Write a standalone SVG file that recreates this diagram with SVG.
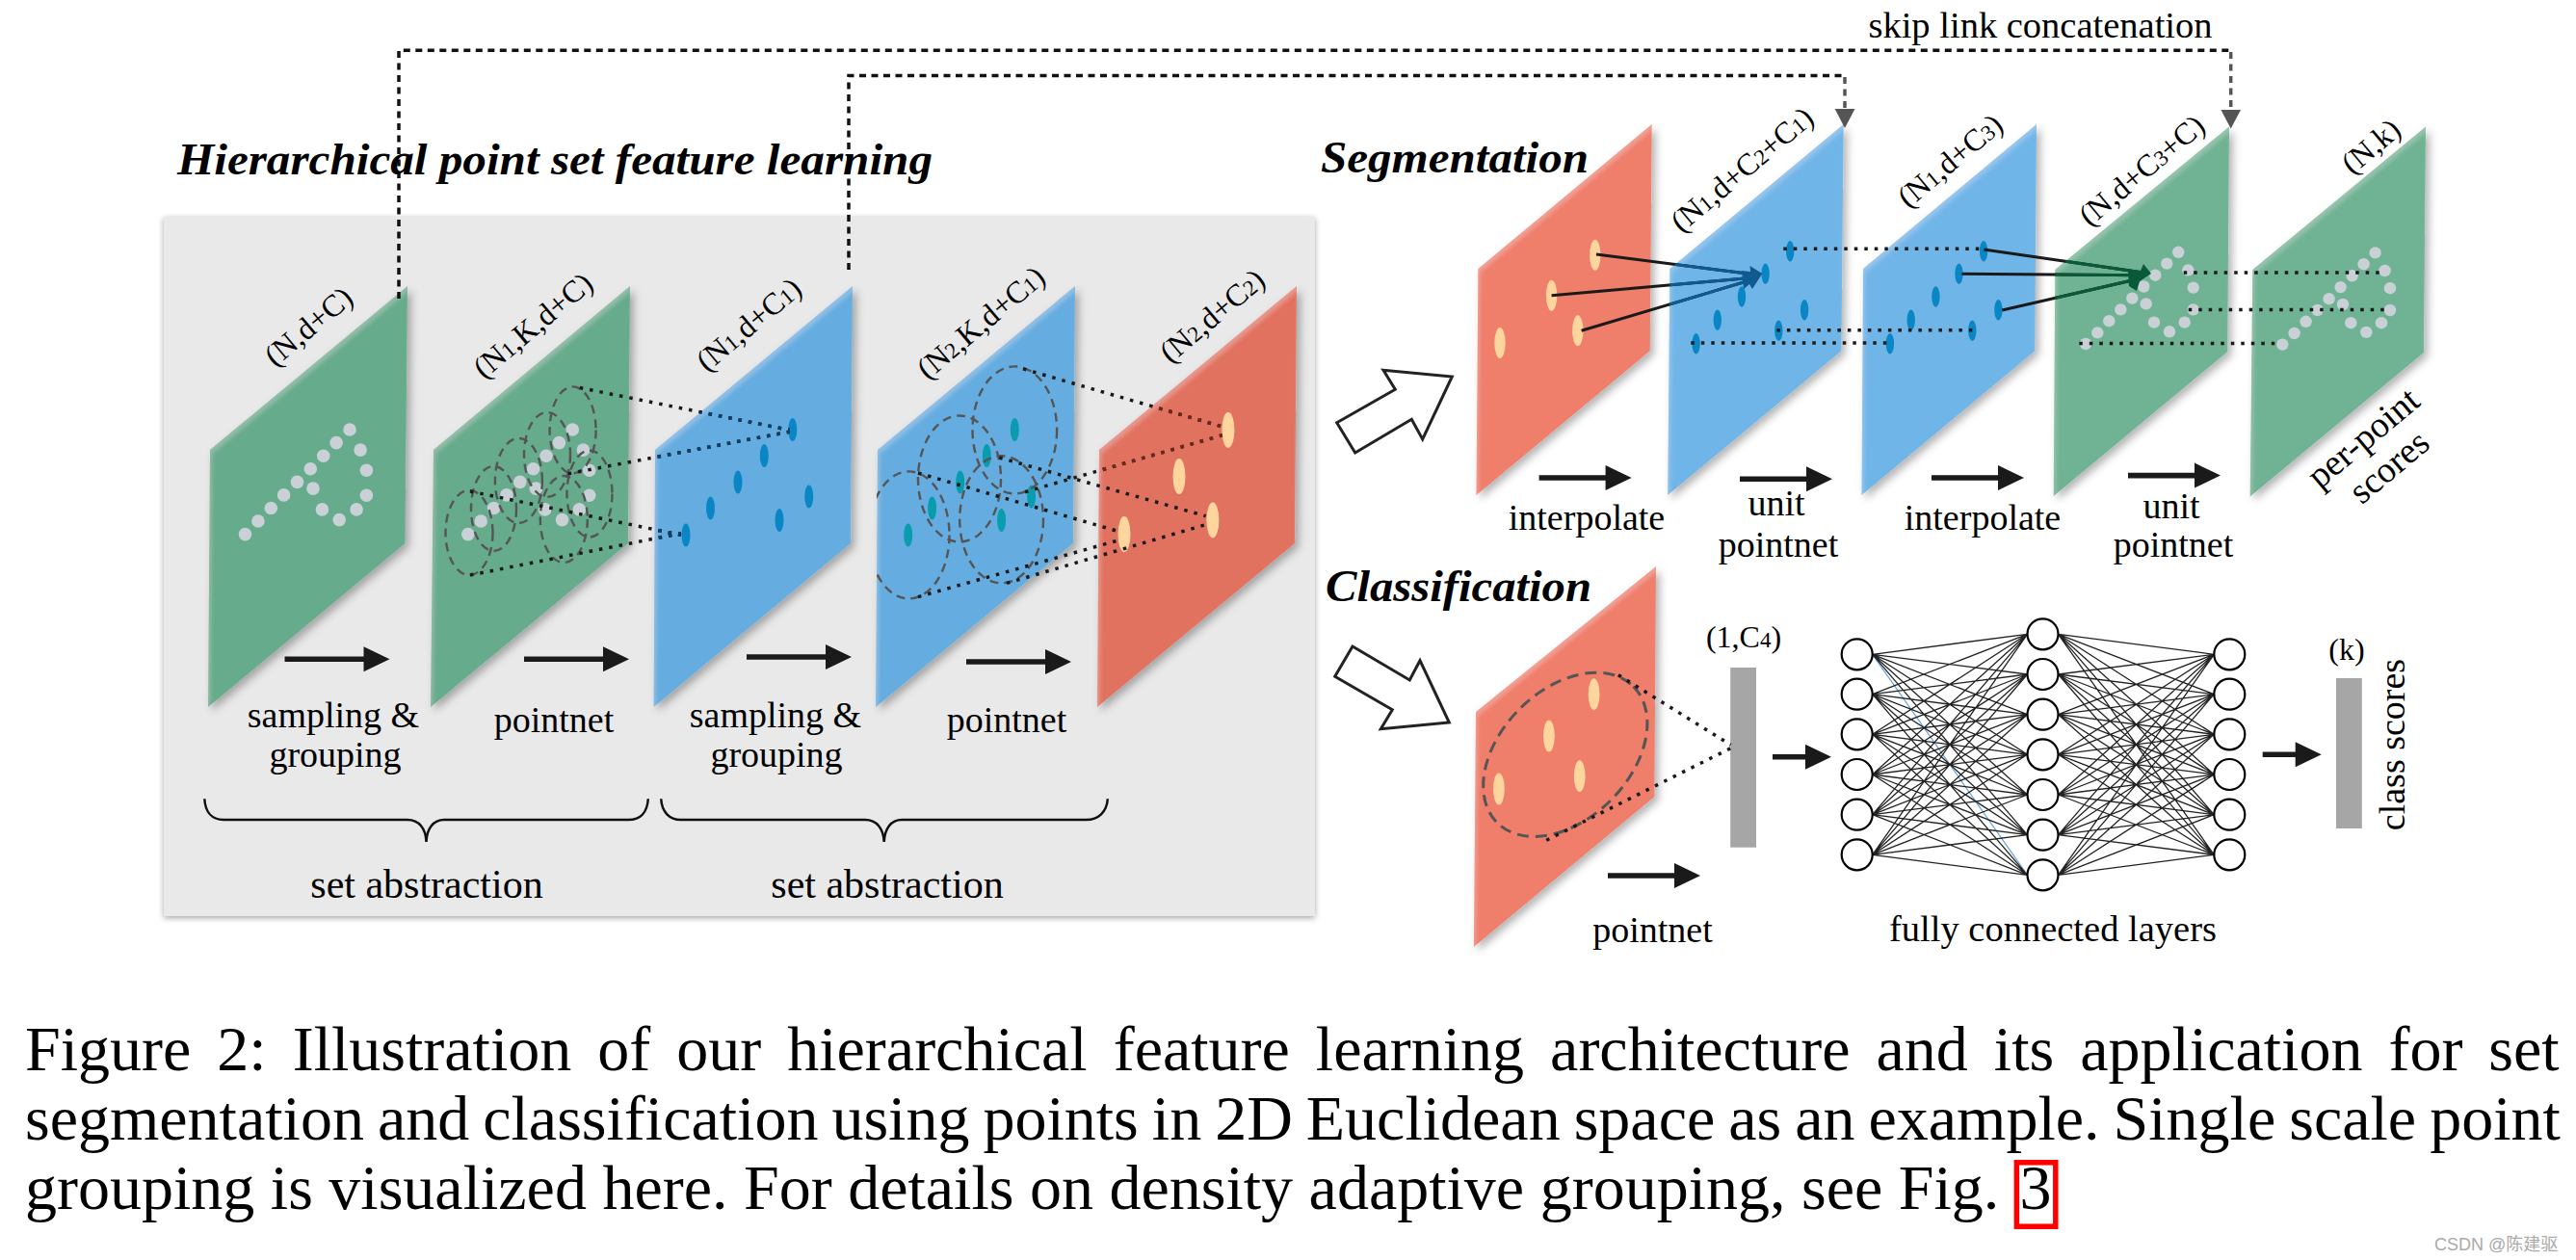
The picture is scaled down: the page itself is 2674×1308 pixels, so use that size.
<svg xmlns="http://www.w3.org/2000/svg" width="2674" height="1308" viewBox="0 0 2674 1308">
<style>
text{font-family:"Liberation Serif","Times New Roman",serif;fill:#000}
.t{font-size:38px;text-anchor:middle}
.sa{font-size:42px;text-anchor:middle}
.d{font-size:32px;text-anchor:middle}
.s{font-size:.72em}
.h{font-size:46px;font-weight:bold;font-style:italic}
.cap{font-size:66px}
.dot{fill:none;stroke:#1a1a1a;stroke-width:3.5;stroke-dasharray:3.5 7}
.dr{stroke:#6b2a20}
.db{stroke:#123f63}
.sk{fill:none;stroke:#111;stroke-width:3.5;stroke-dasharray:7 5.5}
.skg{stroke:#555}
.dc{fill:none;stroke:#555;stroke-width:2.4;stroke-dasharray:9 6}
.pg{fill:#66ab8c}.pb{fill:#65ade0}.pr{fill:#e27260}
.qg{fill:#6fb394}.qb{fill:#6fb5e8}.qr{fill:#ef7e6a}
.w{fill:#c9d1d6}.y{fill:#fed59c}.a{fill:#0a86c4}.e{fill:#089cae}
.ln{fill:none;stroke:#1a1a1a;stroke-width:3}
.nn{fill:#fff;stroke:#000;stroke-width:2.2}
.net{fill:none;stroke:#222;stroke-width:1.3}
.hollow{fill:#fff;stroke:#222;stroke-width:3;stroke-linejoin:miter}
.brace{fill:none;stroke:#111;stroke-width:2.5}
</style>
<defs>
<filter id="pl" x="-10%" y="-10%" width="125%" height="125%">
<feOffset in="SourceAlpha" dx="1.5" dy="4" result="o"/>
<feGaussianBlur in="o" stdDeviation="2" result="ob"/>
<feFlood flood-color="#fff" flood-opacity=".18"/>
<feComposite operator="out" in2="ob"/>
<feComposite operator="in" in2="SourceAlpha" result="edge"/>
<feGaussianBlur in="SourceAlpha" stdDeviation="4" result="b"/>
<feOffset in="b" dx="4" dy="4" result="bo"/>
<feFlood flood-color="#000" flood-opacity=".3"/>
<feComposite operator="in" in2="bo" result="sh"/>
<feMerge><feMergeNode in="sh"/><feMergeNode in="SourceGraphic"/><feMergeNode in="edge"/></feMerge>
</filter>
<filter id="ps" x="-3%" y="-3%" width="106%" height="106%"><feDropShadow dx="0" dy="2" stdDeviation="3" flood-opacity=".35"/></filter>
<path id="ar109" d="M0-2.8H82V-13L109 0 82 13V2.8H0Z" fill="#1a1a1a"/>
<path id="ar96" d="M0-2.8H69V-13L96 0 69 13V2.8H0Z" fill="#1a1a1a"/>
<path id="ar61" d="M0-2.8H34V-13L61 0 34 13V2.8H0Z" fill="#1a1a1a"/>
<circle id="pt" r="6.8"/>
<g id="shape">
<use href="#pt" x="254.5" y="554.6"/><use href="#pt" x="267.9" y="541"/><use href="#pt" x="281.3" y="527.5"/><use href="#pt" x="294.6" y="513.9"/><use href="#pt" x="308.5" y="500.4"/><use href="#pt" x="322.3" y="486.8"/><use href="#pt" x="335.7" y="473.2"/><use href="#pt" x="349.1" y="459.6"/><use href="#pt" x="363" y="446"/><use href="#pt" x="374.1" y="467.1"/><use href="#pt" x="380.4" y="488.2"/><use href="#pt" x="380.4" y="514.3"/><use href="#pt" x="370.1" y="528.9"/><use href="#pt" x="352.2" y="539.6"/><use href="#pt" x="334.4" y="528.9"/><use href="#pt" x="325" y="507.1"/>
</g>
<clipPath id="c4"><rect x="910" y="300" width="300" height="400"/></clipPath>
<clipPath id="cb1"><polygon points="1733.4,279 1913.7,129 1911.4,364.3 1731.2,514"/></clipPath>
<clipPath id="cg1"><polygon points="2133.3,280 2314,131.4 2312.3,365 2131.7,515"/></clipPath>
<clipPath id="cm3"><polygon points="680,467 885,297 883,564 678.6,734"/></clipPath>
<clipPath id="cm5"><polygon points="1141,467 1346,297 1344,564 1139,734"/></clipPath>
</defs>
<rect width="2674" height="1308" fill="#fff"/>

<g id="panel"><rect x="170" y="225" width="1195" height="726" fill="#e9e9e9" filter="url(#ps)"/></g>

<g id="plane-n-dc">
<polygon class="pg" filter="url(#pl)" points="218,467 423,297 420.5,564 216,734"/>
<use href="#shape" class="w"/>
<text class="d" transform="translate(327,347) rotate(-40)">(N,d+C)</text>
</g>
<g id="plane-n1kdc">
<polygon class="pg" filter="url(#pl)" points="450,467 654,297 652,564 447,734"/>
<use href="#shape" x="231.3" class="w"/>
<text class="d" transform="translate(560,346) rotate(-40)">(N<tspan class="s">1</tspan>,K,d+C)</text>
<g class="dc"><ellipse cx="487" cy="553" rx="24.5" ry="44"/><ellipse cx="512.5" cy="528" rx="23.5" ry="44"/><ellipse cx="538.4" cy="499" rx="24.5" ry="44"/><ellipse cx="568" cy="472" rx="24" ry="44"/><ellipse cx="594.6" cy="446.4" rx="24" ry="45"/><ellipse cx="612" cy="512.5" rx="23.5" ry="45"/><ellipse cx="585.3" cy="539" rx="24.5" ry="45"/></g>
</g>
<g id="plane-n1dc1">
<polygon class="pb" filter="url(#pl)" points="680,467 885,297 883,564 678.6,734"/>
<g class="a"><ellipse cx="822.8" cy="446" rx="4.5" ry="12"/><ellipse cx="793.3" cy="472.9" rx="4.5" ry="12"/><ellipse cx="766" cy="500.4" rx="4.5" ry="12"/><ellipse cx="737.5" cy="527.5" rx="4.5" ry="12"/><ellipse cx="712" cy="555.4" rx="4.5" ry="12"/><ellipse cx="839.7" cy="515.4" rx="4.5" ry="12"/><ellipse cx="809" cy="540" rx="4.5" ry="12"/></g>
<text class="d" transform="translate(784,345) rotate(-40)">(N<tspan class="s">1</tspan>,d+C<tspan class="s">1</tspan>)</text>
</g>
<g id="plane-n2kdc1">
<polygon class="pb" filter="url(#pl)" points="911,467 1116,297 1114,564 909,734"/>
<g class="e"><ellipse cx="1053.3" cy="446" rx="4.5" ry="12"/><ellipse cx="1024.3" cy="472.9" rx="4.5" ry="12"/><ellipse cx="996.7" cy="500.4" rx="4.5" ry="12"/><ellipse cx="967.6" cy="527.5" rx="4.5" ry="12"/><ellipse cx="942.7" cy="555.4" rx="4.5" ry="12"/><ellipse cx="1070.6" cy="515.4" rx="4.5" ry="12"/><ellipse cx="1039.6" cy="540" rx="4.5" ry="12"/></g>
<text class="d" transform="translate(1025,343) rotate(-40)">(N<tspan class="s">2</tspan>,K,d+C<tspan class="s">1</tspan>)</text>
<g class="dc" clip-path="url(#c4)"><ellipse cx="943.5" cy="555.4" rx="42" ry="66"/><ellipse cx="996" cy="497" rx="43" ry="65.5"/><ellipse cx="1053.3" cy="446.4" rx="43.8" ry="66"/><ellipse cx="1039.6" cy="539.3" rx="43.4" ry="66"/></g>
</g>
<g id="plane-n2dc2">
<polygon class="pr" filter="url(#pl)" points="1141,467 1346,297 1344,564 1139,734"/>
<g class="y"><ellipse cx="1274.9" cy="446.4" rx="6.5" ry="18.5"/><ellipse cx="1224" cy="494.6" rx="6.5" ry="18.5"/><ellipse cx="1258.9" cy="540" rx="6.5" ry="18.5"/><ellipse cx="1167" cy="554.6" rx="6.5" ry="18.5"/></g>
<text class="d" transform="translate(1265,336) rotate(-40)">(N<tspan class="s">2</tspan>,d+C<tspan class="s">2</tspan>)</text>
</g>

<g id="seg-red">
<polygon class="qr" filter="url(#pl)" points="1534.4,279 1714.7,129 1712.8,364.3 1532.5,514"/>
<g class="y"><ellipse cx="1655.8" cy="264.7" rx="5.7" ry="16"/><ellipse cx="1610.6" cy="306.7" rx="5.7" ry="16"/><ellipse cx="1637.8" cy="343.3" rx="5.7" ry="16"/><ellipse cx="1557" cy="356" rx="5.7" ry="16"/></g>
</g>
<g id="seg-blue1">
<polygon class="qb" filter="url(#pl)" points="1733.4,279 1913.7,129 1911.4,364.3 1731.2,514"/>
<g class="a"><ellipse cx="1858.2" cy="260.7" rx="4.2" ry="10.7"/><ellipse cx="1832.6" cy="284.3" rx="4.2" ry="10.7"/><ellipse cx="1808" cy="308" rx="4.2" ry="10.7"/><ellipse cx="1782.8" cy="332.3" rx="4.2" ry="10.7"/><ellipse cx="1760.6" cy="356.7" rx="4.2" ry="10.7"/><ellipse cx="1846.3" cy="343.3" rx="4.2" ry="10.7"/><ellipse cx="1873.1" cy="321.7" rx="4.2" ry="10.7"/></g>
<text class="d" transform="translate(1815,184) rotate(-40)">(N<tspan class="s">1</tspan>,d+C<tspan class="s">2</tspan>+C<tspan class="s">1</tspan>)</text>
</g>
<g id="seg-blue2">
<polygon class="qb" filter="url(#pl)" points="1934,279 2114,129 2112.3,364.3 1932.5,514"/>
<g class="a"><ellipse cx="2059.1" cy="260.7" rx="4.2" ry="10.7"/><ellipse cx="2033.5" cy="284.3" rx="4.2" ry="10.7"/><ellipse cx="2009.4" cy="308" rx="4.2" ry="10.7"/><ellipse cx="1983.7" cy="332.3" rx="4.2" ry="10.7"/><ellipse cx="1961.9" cy="356.7" rx="4.2" ry="10.7"/><ellipse cx="2047.3" cy="343.3" rx="4.2" ry="10.7"/><ellipse cx="2074.4" cy="321.7" rx="4.2" ry="10.7"/></g>
<text class="d" transform="translate(2031,175) rotate(-40)">(N<tspan class="s">1</tspan>,d+C<tspan class="s">3</tspan>)</text>
</g>
<g id="seg-green1">
<polygon class="qg" filter="url(#pl)" points="2133.3,280 2314,131.4 2312.3,365 2131.7,515"/>
<g class="w"><circle r="6.2" cx="2165" cy="357"/><circle r="6.2" cx="2177.3" cy="345.4"/><circle r="6.2" cx="2189.3" cy="333.2"/><circle r="6.2" cx="2201.3" cy="321.4"/><circle r="6.2" cx="2213.3" cy="309.6"/><circle r="6.2" cx="2225.3" cy="297.5"/><circle r="6.2" cx="2237.3" cy="285.7"/><circle r="6.2" cx="2249.3" cy="273.6"/><circle r="6.2" cx="2261.3" cy="261.8"/><circle r="6.2" cx="2271.3" cy="280.4"/><circle r="6.2" cx="2276.7" cy="298.6"/><circle r="6.2" cx="2276.7" cy="321.4"/><circle r="6.2" cx="2267.7" cy="334.6"/><circle r="6.2" cx="2252" cy="344.3"/><circle r="6.2" cx="2236" cy="334.6"/><circle r="6.2" cx="2227.7" cy="315.4"/></g>
<text class="d" transform="translate(2230,185) rotate(-40)">(N,d+C<tspan class="s">3</tspan>+C)</text>
</g>
<g id="seg-green2">
<polygon class="qg" filter="url(#pl)" points="2338.3,280 2518,131.4 2516,366 2335.7,515.4"/>
<g class="w" transform="translate(204.3,.6)"><circle r="6.2" cx="2165" cy="357"/><circle r="6.2" cx="2177.3" cy="345.4"/><circle r="6.2" cx="2189.3" cy="333.2"/><circle r="6.2" cx="2201.3" cy="321.4"/><circle r="6.2" cx="2213.3" cy="309.6"/><circle r="6.2" cx="2225.3" cy="297.5"/><circle r="6.2" cx="2237.3" cy="285.7"/><circle r="6.2" cx="2249.3" cy="273.6"/><circle r="6.2" cx="2261.3" cy="261.8"/><circle r="6.2" cx="2271.3" cy="280.4"/><circle r="6.2" cx="2276.7" cy="298.6"/><circle r="6.2" cx="2276.7" cy="321.4"/><circle r="6.2" cx="2267.7" cy="334.6"/><circle r="6.2" cx="2252" cy="344.3"/><circle r="6.2" cx="2236" cy="334.6"/><circle r="6.2" cx="2227.7" cy="315.4"/></g>
<text class="d" transform="translate(2468,160) rotate(-40)">(N,k)</text>
<text class="t" transform="translate(2461,464) rotate(-40)">per-point</text>
<text class="t" transform="translate(2488,494) rotate(-40)">scores</text>
</g>

<g id="class-red">
<polygon class="qr" filter="url(#pl)" points="1532,739 1719,588 1717.4,827 1529.9,983"/>
<g class="y"><ellipse cx="1654.6" cy="720.7" rx="5.9" ry="16.5"/><ellipse cx="1607.9" cy="764" rx="5.9" ry="16.5"/><ellipse cx="1639.7" cy="805.7" rx="5.9" ry="16.5"/><ellipse cx="1555.9" cy="819" rx="5.9" ry="16.5"/></g>
<ellipse class="dc" cx="1624.8" cy="783.3" rx="100" ry="67" transform="rotate(-45 1624.8 783.3)" style="stroke-width:3;stroke-dasharray:12 7"/>
</g>
<g id="class-bar"><rect x="1796.2" y="693" width="26.8" height="186.7" fill="#a6a6a6"/><text class="d" x="1810" y="672">(1,C<tspan class="s">4</tspan>)</text></g>
<g id="score-bar"><rect x="2425" y="704" width="26.8" height="156" fill="#a6a6a6"/><text class="d" x="2436" y="685">(k)</text><text class="t" transform="translate(2496,773) rotate(-90)">class scores</text></g>

<g id="connectors">
<g id="skip">
<path class="sk" d="M414 310V52.3H2315.7"/>
<path class="sk skg" d="M2315.7 54V114"/>
<path d="M2305.4 114H2326L2315.7 133.5Z" fill="#555"/>
<path class="sk" d="M881 280V78.5H1915"/>
<path class="sk skg" d="M1915 80V113"/>
<path d="M1904.7 113H1925.5L1915 133Z" fill="#555"/>
</g>
<g id="dotted">
<path class="dot" d="M601.8 402.5L819.6 446.4M589.7 491.8L819.6 448.2M488 510L707 555.4M488 597L707 553.6"/>
<path class="dot db" clip-path="url(#cm3)" d="M601.8 402.5L819.6 446.4M589.7 491.8L819.6 448.2M488 510L707 555.4M488 597L707 553.6"/>
<path class="dot" d="M1062 382.9L1268.8 442.9M1064 510.7L1268.8 451.8M1037.3 475L1251.6 535.7M953 491L1161.6 551.8M953 619.6L1161.6 560.7M1045 605.4L1251.6 544.6"/>
<path class="dot dr" clip-path="url(#cm5)" d="M1062 382.9L1268.8 442.9M1064 510.7L1268.8 451.8"/>
<path class="dot" d="M1851.3 258.3H2058.7M1844.4 342.7H2047.3M1755.3 356H1961.9M2266.7 282.9H2473.3M2271.7 321.4H2480M2158.3 356.4H2365"/>
<path class="dot" d="M1679.9 700.7L1796.6 773.3M1605.2 872.3L1796.6 776.7"/>
</g>
<g id="fans">
<path class="ln" d="M1657 264L1822 285M1610.6 306.7L1822 288M1641.6 343.3L1820 290"/>
<g clip-path="url(#cb1)"><path d="M1657 264L1822 285M1610.6 306.7L1822 288M1641.6 343.3L1820 290" fill="none" stroke="#0f5a90" stroke-width="3"/><path d="M1829.3 284L1816.5 276 1817 282 1808 281 1810 300 1816 295 1819 300Z" fill="#0f5a90"/></g>
<path class="ln" d="M2059.3 259L2225 283M2036.5 284.3L2225 285.7M2078.3 322L2222 289"/>
<g clip-path="url(#cg1)"><path d="M2059.3 259L2225 283M2036.5 284.3L2225 285.7M2078.3 322L2222 289" fill="none" stroke="#0a5a3a" stroke-width="3"/><path d="M2233 284L2225 274 2222 281 2209 281 2210 297 2218 302 2221 292Z" fill="#0a5a3a"/></g>
</g>
<g id="flow">
<use href="#ar109" x="295.5" y="684.3"/><use href="#ar109" x="544" y="684.3"/><use href="#ar109" x="775" y="682"/><use href="#ar109" x="1003" y="687"/>
<use href="#ar96" x="1597.6" y="496"/><use href="#ar96" x="1806" y="497.3"/><use href="#ar96" x="2005" y="496"/><use href="#ar96" x="2209" y="493.6"/>
<use href="#ar96" x="1669" y="909"/><use href="#ar61" x="1840" y="785.7"/><use href="#ar61" x="2348.7" y="783.3"/>
</g>
<polygon id="hollow1" class="hollow" points="1387.7,438.7 1448.3,404.3 1436,384.3 1507.3,391 1476.7,456 1465.3,435.3 1406.7,470"/>
<polygon id="hollow2" class="hollow" points="1404,671 1463.3,706 1474,685.7 1504.3,750 1433.3,756.7 1445.3,736.7 1385.7,702.3"/>
<g id="net">
<path class="net" d="M1943.7 679.3L2104.5 908.3" style="stroke:#6fa8dc"/>
<path class="net" d="M1943.7 679.3L2104.5 658.3M1943.7 679.3L2104.5 700M1943.7 679.3L2104.5 741.7M1943.7 679.3L2104.5 783.3M1943.7 679.3L2104.5 825M1943.7 679.3L2104.5 866.7M1943.7 720.7L2104.5 658.3M1943.7 720.7L2104.5 700M1943.7 720.7L2104.5 741.7M1943.7 720.7L2104.5 783.3M1943.7 720.7L2104.5 825M1943.7 720.7L2104.5 866.7M1943.7 720.7L2104.5 908.3M1943.7 762.3L2104.5 658.3M1943.7 762.3L2104.5 700M1943.7 762.3L2104.5 741.7M1943.7 762.3L2104.5 783.3M1943.7 762.3L2104.5 825M1943.7 762.3L2104.5 866.7M1943.7 762.3L2104.5 908.3M1943.7 804L2104.5 658.3M1943.7 804L2104.5 700M1943.7 804L2104.5 741.7M1943.7 804L2104.5 783.3M1943.7 804L2104.5 825M1943.7 804L2104.5 866.7M1943.7 804L2104.5 908.3M1943.7 845.7L2104.5 658.3M1943.7 845.7L2104.5 700M1943.7 845.7L2104.5 741.7M1943.7 845.7L2104.5 783.3M1943.7 845.7L2104.5 825M1943.7 845.7L2104.5 866.7M1943.7 845.7L2104.5 908.3M1943.7 887.3L2104.5 658.3M1943.7 887.3L2104.5 700M1943.7 887.3L2104.5 741.7M1943.7 887.3L2104.5 783.3M1943.7 887.3L2104.5 825M1943.7 887.3L2104.5 866.7M1943.7 887.3L2104.5 908.3"/>
<path class="net" d="M2136.5 658.3L2298.3 679.3M2136.5 658.3L2298.3 720.7M2136.5 658.3L2298.3 762.3M2136.5 658.3L2298.3 804M2136.5 658.3L2298.3 845.7M2136.5 658.3L2298.3 887.3M2136.5 700L2298.3 679.3M2136.5 700L2298.3 720.7M2136.5 700L2298.3 762.3M2136.5 700L2298.3 804M2136.5 700L2298.3 845.7M2136.5 700L2298.3 887.3M2136.5 741.7L2298.3 679.3M2136.5 741.7L2298.3 720.7M2136.5 741.7L2298.3 762.3M2136.5 741.7L2298.3 804M2136.5 741.7L2298.3 845.7M2136.5 741.7L2298.3 887.3M2136.5 783.3L2298.3 679.3M2136.5 783.3L2298.3 720.7M2136.5 783.3L2298.3 762.3M2136.5 783.3L2298.3 804M2136.5 783.3L2298.3 845.7M2136.5 783.3L2298.3 887.3M2136.5 825L2298.3 679.3M2136.5 825L2298.3 720.7M2136.5 825L2298.3 762.3M2136.5 825L2298.3 804M2136.5 825L2298.3 845.7M2136.5 825L2298.3 887.3M2136.5 866.7L2298.3 679.3M2136.5 866.7L2298.3 720.7M2136.5 866.7L2298.3 762.3M2136.5 866.7L2298.3 804M2136.5 866.7L2298.3 845.7M2136.5 866.7L2298.3 887.3M2136.5 908.3L2298.3 679.3M2136.5 908.3L2298.3 720.7M2136.5 908.3L2298.3 762.3M2136.5 908.3L2298.3 804M2136.5 908.3L2298.3 845.7M2136.5 908.3L2298.3 887.3"/>
</g>
</g>

<g id="nn-nodes" class="nn">
<circle cx="1927.7" cy="679.3" r="16"/><circle cx="1927.7" cy="720.7" r="16"/><circle cx="1927.7" cy="762.3" r="16"/><circle cx="1927.7" cy="804" r="16"/><circle cx="1927.7" cy="845.7" r="16"/><circle cx="1927.7" cy="887.3" r="16"/>
<circle cx="2120.5" cy="658.3" r="16"/><circle cx="2120.5" cy="700" r="16"/><circle cx="2120.5" cy="741.7" r="16"/><circle cx="2120.5" cy="783.3" r="16"/><circle cx="2120.5" cy="825" r="16"/><circle cx="2120.5" cy="866.7" r="16"/><circle cx="2120.5" cy="908.3" r="16"/>
<circle cx="2314.3" cy="679.3" r="16"/><circle cx="2314.3" cy="720.7" r="16"/><circle cx="2314.3" cy="762.3" r="16"/><circle cx="2314.3" cy="804" r="16"/><circle cx="2314.3" cy="845.7" r="16"/><circle cx="2314.3" cy="887.3" r="16"/>
</g>

<g id="braces" class="brace">
<path d="M212.3 829.3C213 843 220 851 232 851H422.8C435 851 442 860 442.5 874C443 860 450 851 461 851H652.4C665 851 672 843 672.8 829.3"/>
<path d="M686.2 829.3C687 843 695 851 706.6 851H898C910 851 917 860 917.7 874C918.4 860 925 851 936 851H1127.5C1140 851 1149 843 1149.8 829.3"/>
</g>

<g id="labels">
<text class="h" x="184" y="181" textLength="784" lengthAdjust="spacingAndGlyphs">Hierarchical point set feature learning</text>
<text class="h" x="1371" y="179" textLength="278" lengthAdjust="spacingAndGlyphs">Segmentation</text>
<text class="h" x="1376" y="624" textLength="276" lengthAdjust="spacingAndGlyphs">Classification</text>
<text class="t" x="2118" y="39" style="font-size:38.5px">skip link concatenation</text>
<text class="t" x="346" y="755">sampling &amp;</text><text class="t" x="348" y="796">grouping</text>
<text class="t" x="575" y="760">pointnet</text>
<text class="t" x="805" y="755">sampling &amp;</text><text class="t" x="806" y="796">grouping</text>
<text class="t" x="1045" y="760">pointnet</text>
<text class="sa" x="443" y="932">set abstraction</text><text class="sa" x="921" y="932">set abstraction</text>
<text class="t" x="1647" y="550">interpolate</text><text class="t" x="1844" y="535">unit</text><text class="t" x="1846" y="578">pointnet</text>
<text class="t" x="2058" y="550">interpolate</text><text class="t" x="2254" y="538">unit</text><text class="t" x="2256" y="578">pointnet</text>
<text class="t" x="1715.5" y="978">pointnet</text><text class="t" x="2131" y="977" style="font-size:38.5px">fully connected layers</text>
</g>

<g id="caption">
<text class="cap" x="26" y="1110.7" word-spacing="10.5">Figure 2: Illustration of our hierarchical feature learning architecture and its application for set</text>
<text class="cap" x="26" y="1183" word-spacing="-2.5">segmentation and classification using points in 2D Euclidean space as an example. Single scale point</text>
<text class="cap" x="26" y="1255">grouping is visualized here. For details on density adaptive grouping, see Fig.</text>
<text class="cap" x="2096.5" y="1255">3</text>
<rect x="2093.4" y="1206.8" width="40.4" height="66.4" fill="none" stroke="#f00" stroke-width="5.5"/>
</g>
<text id="wm" x="2527" y="1298" style="font-family:'Liberation Sans','Noto Sans CJK SC',sans-serif;font-size:18px;fill:#aaa">CSDN @陈建驱</text>
</svg>
